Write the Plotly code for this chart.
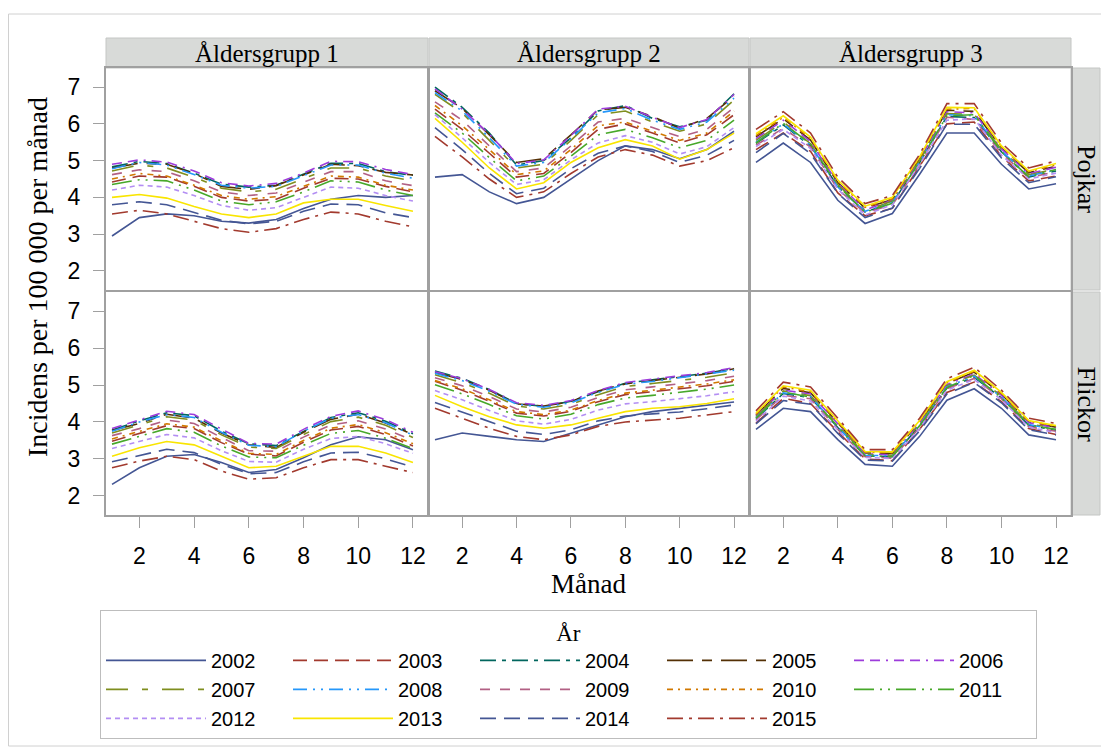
import plotly.graph_objects as go

years = [2002, 2003, 2004, 2005, 2006, 2007, 2008, 2009, 2010, 2011, 2012, 2013, 2014, 2015]
months = [1, 2, 3, 4, 5, 6, 7, 8, 9, 10, 11, 12]
age_groups = ["Åldersgrupp 1", "Åldersgrupp 2", "Åldersgrupp 3"]
sexes = ["Pojkar", "Flickor"]

# Pojkar, Åldersgrupp 1 (rows follow `years`)
pojkar_ag1 = [
    [2.95, 3.45, 3.55, 3.50, 3.35, 3.30, 3.40, 3.70, 3.95, 4.05, 4.00, 4.05],
    [4.42, 4.58, 4.55, 4.30, 4.00, 3.90, 3.95, 4.25, 4.52, 4.50, 4.30, 4.15],
    [4.83, 4.98, 4.92, 4.66, 4.36, 4.28, 4.33, 4.62, 4.93, 4.92, 4.70, 4.60],
    [4.80, 4.93, 4.90, 4.65, 4.30, 4.22, 4.32, 4.60, 4.90, 4.86, 4.68, 4.61],
    [4.90, 5.02, 4.96, 4.72, 4.40, 4.31, 4.38, 4.66, 4.98, 4.97, 4.76, 4.62],
    [4.72, 4.88, 4.80, 4.55, 4.25, 4.15, 4.22, 4.52, 4.80, 4.80, 4.58, 4.45],
    [4.78, 4.95, 4.88, 4.62, 4.33, 4.25, 4.30, 4.58, 4.88, 4.88, 4.66, 4.52],
    [4.62, 4.75, 4.70, 4.45, 4.15, 4.05, 4.12, 4.40, 4.70, 4.70, 4.45, 4.32],
    [4.50, 4.65, 4.58, 4.33, 4.05, 3.95, 4.02, 4.30, 4.58, 4.55, 4.33, 4.20],
    [4.35, 4.48, 4.45, 4.20, 3.90, 3.80, 3.88, 4.15, 4.45, 4.42, 4.20, 4.05],
    [4.20, 4.33, 4.28, 4.05, 3.78, 3.65, 3.72, 4.00, 4.28, 4.25, 4.05, 3.90],
    [4.00, 4.08, 3.98, 3.75, 3.55, 3.45, 3.55, 3.85, 3.95, 3.95, 3.78, 3.62],
    [3.80, 3.88, 3.80, 3.58, 3.38, 3.28, 3.35, 3.62, 3.82, 3.80, 3.58, 3.45],
    [3.55, 3.65, 3.55, 3.35, 3.15, 3.05, 3.15, 3.40, 3.60, 3.55, 3.35, 3.20],
]

# Pojkar, Åldersgrupp 2
pojkar_ag2 = [
    [4.55, 4.62, 4.15, 3.83, 4.00, 4.50, 5.00, 5.40, 5.30, 5.05, 5.30, 5.80],
    [6.40, 5.85, 5.20, 4.55, 4.65, 5.22, 5.85, 6.00, 5.75, 5.48, 5.70, 6.25],
    [7.00, 6.45, 5.75, 4.88, 5.00, 5.62, 6.35, 6.50, 6.15, 5.92, 6.10, 6.82],
    [6.90, 6.42, 5.70, 4.95, 5.05, 5.70, 6.38, 6.45, 6.20, 5.88, 6.15, 6.75],
    [6.95, 6.40, 5.72, 4.92, 5.02, 5.68, 6.40, 6.48, 6.18, 5.90, 6.12, 6.80],
    [6.80, 6.30, 5.55, 4.80, 4.90, 5.55, 6.25, 6.35, 6.05, 5.80, 6.00, 6.65],
    [6.85, 6.35, 5.62, 4.85, 4.95, 5.60, 6.30, 6.42, 6.10, 5.85, 6.05, 6.70],
    [6.60, 6.10, 5.40, 4.70, 4.80, 5.40, 6.05, 6.15, 5.90, 5.65, 5.85, 6.45],
    [6.50, 5.95, 5.30, 4.62, 4.72, 5.30, 5.95, 6.05, 5.80, 5.55, 5.75, 6.35],
    [6.30, 5.75, 5.08, 4.45, 4.58, 5.12, 5.70, 5.85, 5.62, 5.35, 5.55, 6.10],
    [6.25, 5.62, 4.95, 4.35, 4.48, 5.02, 5.48, 5.68, 5.50, 5.18, 5.38, 5.90],
    [6.15, 5.50, 4.80, 4.23, 4.40, 4.95, 5.35, 5.57, 5.40, 5.04, 5.30, 5.75],
    [5.90, 5.30, 4.65, 4.10, 4.25, 4.78, 5.20, 5.40, 5.25, 4.95, 5.15, 5.55],
    [5.66, 5.10, 4.50, 4.00, 4.15, 4.65, 5.10, 5.30, 5.15, 4.85, 5.00, 5.35],
]

# Pojkar, Åldersgrupp 3
pojkar_ag3 = [
    [4.95, 5.48, 4.95, 3.92, 3.29, 3.56, 4.63, 5.75, 5.75, 4.90, 4.23, 4.37],
    [5.30, 5.75, 5.25, 4.12, 3.50, 3.70, 4.85, 6.00, 6.05, 5.12, 4.45, 4.58],
    [5.47, 5.97, 5.40, 4.30, 3.60, 3.85, 4.95, 6.20, 6.17, 5.24, 4.55, 4.72],
    [5.65, 6.14, 5.56, 4.40, 3.71, 3.94, 5.05, 6.37, 6.34, 5.35, 4.67, 4.85],
    [5.60, 6.10, 5.52, 4.38, 3.66, 3.92, 5.02, 6.33, 6.30, 5.32, 4.64, 4.82],
    [5.55, 6.05, 5.46, 4.35, 3.63, 3.90, 5.00, 6.28, 6.26, 5.30, 4.61, 4.78],
    [5.50, 6.00, 5.42, 4.28, 3.62, 3.86, 4.96, 6.25, 6.22, 5.26, 4.58, 4.75],
    [5.42, 5.88, 5.37, 4.22, 3.58, 3.80, 4.88, 6.18, 6.12, 5.20, 4.53, 4.70],
    [5.68, 6.18, 5.60, 4.44, 3.73, 3.96, 5.08, 6.40, 6.42, 5.38, 4.70, 4.88],
    [5.48, 6.02, 5.45, 4.32, 3.60, 3.84, 4.97, 6.22, 6.25, 5.24, 4.56, 4.76],
    [5.38, 5.85, 5.33, 4.22, 3.52, 3.80, 4.90, 6.10, 6.14, 5.15, 4.50, 4.66],
    [5.73, 6.22, 5.64, 4.47, 3.76, 4.00, 5.10, 6.45, 6.44, 5.40, 4.72, 4.92],
    [5.22, 5.74, 5.19, 4.11, 3.45, 3.71, 4.79, 5.99, 5.99, 5.07, 4.40, 4.56],
    [5.85, 6.33, 5.75, 4.55, 3.83, 4.05, 5.17, 6.55, 6.55, 5.48, 4.80, 4.99],
]

# Flickor, Åldersgrupp 1
flickor_ag1 = [
    [2.31, 2.76, 3.07, 3.12, 2.90, 2.63, 2.71, 3.03, 3.38, 3.60, 3.52, 3.25],
    [3.48, 3.70, 3.90, 3.82, 3.44, 3.13, 3.08, 3.45, 3.78, 3.88, 3.66, 3.35],
    [3.78, 4.03, 4.25, 4.17, 3.75, 3.41, 3.36, 3.74, 4.12, 4.25, 4.02, 3.68],
    [3.77, 3.96, 4.21, 4.10, 3.70, 3.38, 3.31, 3.72, 4.07, 4.21, 3.97, 3.66],
    [3.82, 4.06, 4.29, 4.20, 3.80, 3.42, 3.40, 3.80, 4.15, 4.30, 4.06, 3.72],
    [3.70, 3.93, 4.14, 4.05, 3.65, 3.32, 3.28, 3.66, 4.01, 4.13, 3.91, 3.58],
    [3.75, 4.00, 4.20, 4.12, 3.72, 3.37, 3.33, 3.75, 4.10, 4.20, 3.98, 3.64],
    [3.63, 3.82, 4.05, 3.96, 3.58, 3.22, 3.21, 3.59, 3.92, 4.03, 3.81, 3.50],
    [3.54, 3.75, 3.95, 3.86, 3.49, 3.15, 3.12, 3.50, 3.83, 3.93, 3.71, 3.41],
    [3.40, 3.60, 3.82, 3.72, 3.35, 3.05, 3.03, 3.37, 3.69, 3.77, 3.56, 3.28],
    [3.28, 3.46, 3.66, 3.57, 3.22, 2.93, 2.91, 3.26, 3.55, 3.61, 3.41, 3.15],
    [3.07, 3.30, 3.47, 3.38, 3.07, 2.76, 2.80, 3.07, 3.34, 3.34, 3.16, 2.90],
    [2.92, 3.10, 3.26, 3.17, 2.85, 2.60, 2.63, 2.92, 3.16, 3.18, 3.00, 2.78],
    [2.76, 2.94, 3.07, 2.98, 2.67, 2.45, 2.49, 2.76, 2.98, 2.98, 2.80, 2.63],
]

# Flickor, Åldersgrupp 2
flickor_ag2 = [
    [3.52, 3.70, 3.61, 3.52, 3.47, 3.70, 3.92, 4.14, 4.28, 4.37, 4.46, 4.54],
    [5.10, 4.86, 4.56, 4.24, 4.16, 4.29, 4.55, 4.74, 4.82, 4.89, 4.98, 5.10],
    [5.38, 5.18, 4.88, 4.50, 4.42, 4.56, 4.82, 5.05, 5.14, 5.24, 5.32, 5.45],
    [5.34, 5.15, 4.86, 4.49, 4.43, 4.55, 4.84, 5.03, 5.12, 5.22, 5.30, 5.44],
    [5.36, 5.17, 4.88, 4.52, 4.45, 4.58, 4.85, 5.07, 5.16, 5.25, 5.34, 5.47],
    [5.28, 5.06, 4.78, 4.43, 4.35, 4.48, 4.74, 4.96, 5.04, 5.13, 5.21, 5.33],
    [5.32, 5.12, 4.83, 4.48, 4.40, 4.52, 4.80, 5.02, 5.10, 5.20, 5.28, 5.40],
    [5.20, 4.98, 4.69, 4.35, 4.27, 4.40, 4.66, 4.87, 4.95, 5.03, 5.12, 5.24],
    [5.12, 4.90, 4.60, 4.28, 4.20, 4.32, 4.58, 4.78, 4.86, 4.94, 5.03, 5.14],
    [5.01, 4.76, 4.47, 4.17, 4.08, 4.21, 4.47, 4.65, 4.72, 4.80, 4.89, 5.00],
    [4.85, 4.60, 4.31, 4.03, 3.94, 4.07, 4.32, 4.49, 4.55, 4.62, 4.71, 4.82],
    [4.72, 4.41, 4.14, 3.92, 3.83, 3.92, 4.10, 4.28, 4.37, 4.41, 4.50, 4.63],
    [4.53, 4.27, 3.99, 3.75, 3.66, 3.79, 4.03, 4.16, 4.22, 4.27, 4.36, 4.46],
    [4.37, 4.10, 3.83, 3.61, 3.52, 3.65, 3.88, 4.00, 4.05, 4.10, 4.19, 4.28],
]

# Flickor, Åldersgrupp 3
flickor_ag3 = [
    [3.80, 4.37, 4.28, 3.52, 2.85, 2.80, 3.61, 4.59, 4.90, 4.37, 3.65, 3.52],
    [3.97, 4.64, 4.50, 3.73, 3.00, 2.95, 3.80, 4.80, 5.08, 4.55, 3.82, 3.66],
    [4.09, 4.77, 4.66, 3.85, 3.08, 3.06, 3.89, 4.92, 5.21, 4.65, 3.91, 3.77],
    [4.19, 4.91, 4.79, 3.97, 3.16, 3.15, 3.99, 5.04, 5.35, 4.75, 4.00, 3.86],
    [4.16, 4.86, 4.76, 3.94, 3.14, 3.11, 3.96, 5.01, 5.30, 4.72, 3.98, 3.84],
    [4.14, 4.84, 4.71, 3.91, 3.12, 3.10, 3.94, 4.98, 5.27, 4.70, 3.95, 3.82],
    [4.11, 4.79, 4.69, 3.86, 3.10, 3.08, 3.91, 4.95, 5.24, 4.67, 3.93, 3.79],
    [4.06, 4.72, 4.63, 3.80, 3.06, 3.02, 3.85, 4.90, 5.18, 4.63, 3.87, 3.75],
    [4.21, 4.95, 4.81, 3.99, 3.18, 3.17, 4.02, 5.06, 5.37, 4.77, 4.02, 3.88],
    [4.10, 4.81, 4.67, 3.88, 3.09, 3.06, 3.90, 4.93, 5.26, 4.65, 3.92, 3.80],
    [4.02, 4.70, 4.57, 3.79, 3.04, 3.01, 3.82, 4.86, 5.15, 4.60, 3.86, 3.71],
    [4.24, 4.98, 4.86, 4.02, 3.20, 3.19, 4.04, 5.09, 5.40, 4.80, 4.04, 3.90],
    [3.95, 4.58, 4.48, 3.69, 2.97, 2.94, 3.76, 4.76, 5.07, 4.52, 3.79, 3.65],
    [4.30, 5.08, 4.95, 4.10, 3.25, 3.25, 4.10, 5.17, 5.48, 4.86, 4.10, 3.96],
]

panel_data = [[pojkar_ag1, pojkar_ag2, pojkar_ag3], [flickor_ag1, flickor_ag2, flickor_ag3]]

year_colors = ["#445694", "#A23A2E", "#01665E", "#543005", "#9D3CDB", "#7F8E1F", "#2597FA",
               "#B26084", "#D17800", "#47A82A", "#B38EF3", "#F9E500", "#445694", "#A23A2E"]
year_dashes = ["solid", "14px,7px", "16px,6px,4px,6px", "26px,9px,10px,9px",
               "10px,6px,10px,6px,2px,6px", "22px,14px,6px,14px", "14px,6px,2px,6px,2px,6px",
               "10px,10px", "6px,5px,2px,5px", "20px,6px,2px,6px,2px,6px", "5px,4px", "solid",
               "16px,8px", "16px,6px,3px,6px"]

# ---- layout geometry ----
# The page body has an 8px margin, so the figure is 8px smaller and page
# pixel p maps to figure pixel p - OFF.
OFF = 8
W, H = 1109 - OFF, 747 - OFF
ML, MR, MT, MB = 106 - OFF, W - (1100 - OFF), 38 - OFF, H - (515 - OFF)
PW = W - ML - MR
PH = H - MT - MB

def px_x(p):
    return (p - OFF - ML) / PW

def px_y(p):
    return (H - MB - (p - OFF)) / PH

col_dom = [[px_x(106), px_x(428)], [px_x(429), px_x(749)], [px_x(750), px_x(1071)]]
row_dom = [[px_y(290), px_y(68)], [px_y(515), px_y(292)]]

fig = go.Figure()
SERIF = "Liberation Serif, Times New Roman, serif"
SANS = "Liberation Sans, Arial, sans-serif"
GRID = "#A0A0A0"

layout = {}
for r in range(2):
    for c in range(3):
        i = r * 3 + c + 1
        xa = "xaxis" if i == 1 else f"xaxis{i}"
        ya = "yaxis" if i == 1 else f"yaxis{i}"
        layout[xa] = dict(domain=col_dom[c], anchor=f"y{i}", range=[0.78, 12.55],
                          tickvals=[2, 4, 6, 8, 10, 12], showticklabels=(r == 1),
                          ticks="outside" if r == 1 else "", ticklen=11, tickwidth=1,
                          tickcolor=GRID, showline=True, mirror=True, linecolor=GRID,
                          linewidth=2, showgrid=False, zeroline=False,
                          tickfont=dict(family=SANS, size=23, color="#000000"),
                          ticklabelstandoff=8)
        layout[ya] = dict(domain=row_dom[r], anchor=f"x{i}", range=[1.48, 7.52],
                          tickvals=[2, 3, 4, 5, 6, 7], showticklabels=(c == 0),
                          ticks="outside" if c == 0 else "", ticklen=11, tickwidth=1,
                          tickcolor=GRID, showline=True, mirror=True, linecolor=GRID,
                          linewidth=2, showgrid=False, zeroline=False,
                          tickfont=dict(family=SANS, size=23, color="#000000"),
                          ticklabelstandoff=8)
        data = panel_data[r][c]
        for k, yr in enumerate(years):
            fig.add_trace(go.Scatter(
                x=months, y=data[k], mode="lines", name=str(yr),
                legendgroup=str(yr), showlegend=(i == 1),
                line=dict(color=year_colors[k], dash=year_dashes[k], width=1.6),
                xaxis=f"x{i}", yaxis=f"y{i}"))

shapes = []
annotations = []
STRIP = "#D8DAD8"
# top strips
for c in range(3):
    shapes.append(dict(type="rect", xref="paper", yref="paper",
                       x0=col_dom[c][0], x1=col_dom[c][1], y0=px_y(68), y1=px_y(38),
                       fillcolor=STRIP, line=dict(color="#C4C6C4", width=1), layer="below"))
    annotations.append(dict(text=age_groups[c], xref="paper", yref="paper",
                            x=(col_dom[c][0] + col_dom[c][1]) / 2, y=px_y(53),
                            showarrow=False, xanchor="center", yanchor="middle",
                            font=dict(family=SERIF, size=25, color="#000000")))
# right strips
for r in range(2):
    shapes.append(dict(type="rect", xref="paper", yref="paper",
                       x0=px_x(1071), x1=px_x(1100), y0=row_dom[r][0], y1=row_dom[r][1],
                       fillcolor=STRIP, line=dict(color="#C4C6C4", width=1), layer="below"))
    annotations.append(dict(text=sexes[r], xref="paper", yref="paper",
                            x=px_x(1086), y=(row_dom[r][0] + row_dom[r][1]) / 2,
                            showarrow=False, textangle=90, xanchor="center", yanchor="middle",
                            font=dict(family=SERIF, size=26, color="#000000")))
# outer frame
shapes.append(dict(type="rect", xref="paper", yref="paper",
                   x0=px_x(8.5), x1=px_x(1108.5), y0=px_y(746), y1=px_y(14),
                   fillcolor="rgba(0,0,0,0)", line=dict(color="#D0D0D0", width=1), layer="below"))
# axis titles
annotations.append(dict(text="Incidens per 100 000 per månad", xref="paper", yref="paper",
                        x=px_x(37), y=px_y(277), showarrow=False, textangle=-90,
                        xanchor="center", yanchor="middle",
                        font=dict(family=SERIF, size=28, color="#000000")))
annotations.append(dict(text="Månad", xref="paper", yref="paper",
                        x=px_x(588), y=px_y(584), showarrow=False,
                        xanchor="center", yanchor="middle",
                        font=dict(family=SERIF, size=27, color="#000000")))

fig.update_layout(
    **layout,
    width=W, height=H,
    margin=dict(l=ML, r=MR, t=MT, b=MB, pad=0, autoexpand=False),
    paper_bgcolor="white", plot_bgcolor="white",
    shapes=shapes, annotations=annotations,
    legend=dict(orientation="h", x=px_x(100), y=px_y(610), xanchor="left", yanchor="top",
                entrywidth=72, entrywidthmode="pixels",
                bordercolor="#BDBDBD", borderwidth=1, bgcolor="white",
                font=dict(family=SANS, size=20, color="#000000"),
                title=dict(text="År", side="top center",
                           font=dict(family=SERIF, size=23, color="#000000")),
                traceorder="normal", itemwidth=100),
)

fig.write_html("out.html")
